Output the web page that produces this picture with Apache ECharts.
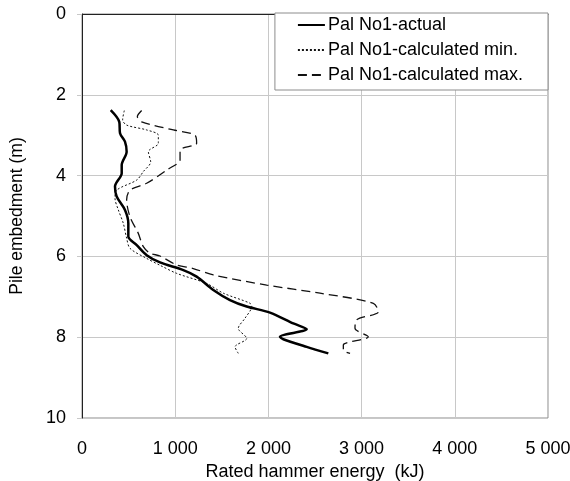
<!DOCTYPE html>
<html><head><meta charset="utf-8">
<script src="https://cdn.jsdelivr.net/npm/echarts@6/dist/echarts.min.js"></script>
<style>html,body{margin:0;padding:0;background:#fff}#c{width:570px;height:481px}</style>
</head><body><div id="c"></div>
<script>
const seriesNames = ['Pal No1-actual', 'Pal No1-calculated min.', 'Pal No1-calculated max.'];
const actualEnergy = [308, 400, 408, 461, 479, 426, 426, 354, 372, 461, 497, 497, 587, 694, 837, 1087, 1230, 1409, 1588, 1767, 2017, 2267, 2411, 2124, 2160, 2411, 2643];
const actualDepth  = [2.38, 2.67, 2.95, 3.16, 3.41, 3.74, 3.94, 4.27, 4.52, 4.85, 5.18, 5.51, 5.72, 5.97, 6.15, 6.34, 6.50, 6.83, 7.08, 7.24, 7.39, 7.66, 7.80, 7.99, 8.05, 8.24, 8.40];
const minEnergy = [454, 436, 479, 694, 819, 819, 712, 737, 658, 587, 372, 354, 390, 443, 479, 515, 694, 837, 1016, 1338, 1516, 1803, 1821, 1749, 1677, 1767, 1642, 1677];
const minDepth  = [2.39, 2.62, 2.75, 2.87, 3.00, 3.20, 3.41, 3.66, 3.90, 4.11, 4.36, 4.56, 4.85, 5.18, 5.55, 5.80, 6.05, 6.22, 6.42, 6.67, 6.91, 7.16, 7.24, 7.53, 7.78, 8.03, 8.24, 8.40];
const maxEnergy = [640, 594, 640, 980, 1212, 1230, 1052, 1052, 909, 694, 515, 479, 515, 604, 658, 730, 837, 1016, 1194, 1409, 1982, 2554, 3126, 3180, 2947, 2929, 3072, 2804, 2804, 2876];
const maxDepth  = [2.39, 2.54, 2.67, 2.87, 3.00, 3.20, 3.37, 3.61, 3.86, 4.19, 4.36, 4.60, 5.02, 5.43, 5.76, 5.92, 5.99, 6.21, 6.30, 6.46, 6.71, 6.91, 7.16, 7.37, 7.57, 7.78, 7.99, 8.19, 8.32, 8.40];
const xTicks = ['0', '1 000', '2 000', '3 000', '4 000', '5 000'];
const yTicks = ['0', '2', '4', '6', '8', '10'];

const pair = (xs, ys) => xs.map((x, i) => [x, ys[i]]);
const FONT = 'Liberation Sans, Arial, sans-serif';
const chart = echarts.init(document.getElementById('c'));
chart.setOption({
  animation: false,
  backgroundColor: '#fff',
  textStyle: { fontFamily: FONT },
  grid: { left: 82, right: 22, top: 14, bottom: 63, containLabel: false, outerBoundsMode: 'none',
    show: true, borderColor: '#8c8c8c', borderWidth: 1 },
  legend: {
    orient: 'vertical', right: 22, top: 13,
    backgroundColor: '#fff', borderColor: '#8c8c8c', borderWidth: 1,
    padding: [3, 25, 6, 22], itemGap: 7, itemWidth: 27, itemHeight: 20,
    itemStyle: { opacity: 0, borderWidth: 0 },
    textStyle: { fontSize: 18, color: '#000', fontFamily: FONT, padding: [0, 0, 0, -2] },
    data: seriesNames
  },
  xAxis: {
    type: 'value', min: 0, max: 5000, interval: 1000,
    name: 'Rated hammer energy  (kJ)', nameLocation: 'middle', nameGap: 43,
    nameTextStyle: { fontSize: 18, color: '#000', fontFamily: FONT },
    axisLine: { show: true, lineStyle: { color: '#222', width: 1 } },
    axisTick: { show: false },
    axisLabel: { fontSize: 18, color: '#000', margin: 22, fontFamily: FONT,
      formatter: v => xTicks[Math.round(v / 1000)] },
    splitLine: { show: true, lineStyle: { color: '#c8c8c8', width: 1 } }
  },
  yAxis: {
    type: 'value', min: 0, max: 10, interval: 2, inverse: true,
    name: 'Pile embedment (m)', nameLocation: 'middle', nameGap: 56,
    nameTextStyle: { fontSize: 17.5, color: '#000', fontFamily: FONT },
    axisLine: { show: true, lineStyle: { color: '#222', width: 1 } },
    axisTick: { show: true, length: 5, lineStyle: { color: '#c8c8c8' } },
    axisLabel: { fontSize: 18, color: '#000', margin: 16, fontFamily: FONT,
      formatter: v => yTicks[Math.round(v / 2)] },
    splitLine: { show: true, lineStyle: { color: '#c8c8c8', width: 1 } }
  },
  series: [
    { name: seriesNames[0], type: 'line', data: pair(actualEnergy, actualDepth), symbol: 'none', smooth: 0.3,
      lineStyle: { color: '#000', width: 2.5 }, itemStyle: { color: '#000' }, z: 4 },
    { name: seriesNames[1], type: 'line', data: pair(minEnergy, minDepth), symbol: 'none', smooth: 0.3,
      lineStyle: { color: '#111', width: 1, type: [2, 2] }, itemStyle: { color: '#111' }, z: 3 },
    { name: seriesNames[2], type: 'line', data: pair(maxEnergy, maxDepth), symbol: 'none', smooth: 0.3,
      lineStyle: { color: '#111', width: 1.3, type: [9, 5] }, itemStyle: { color: '#111' }, z: 3 }
  ]
});
</script></body></html>
